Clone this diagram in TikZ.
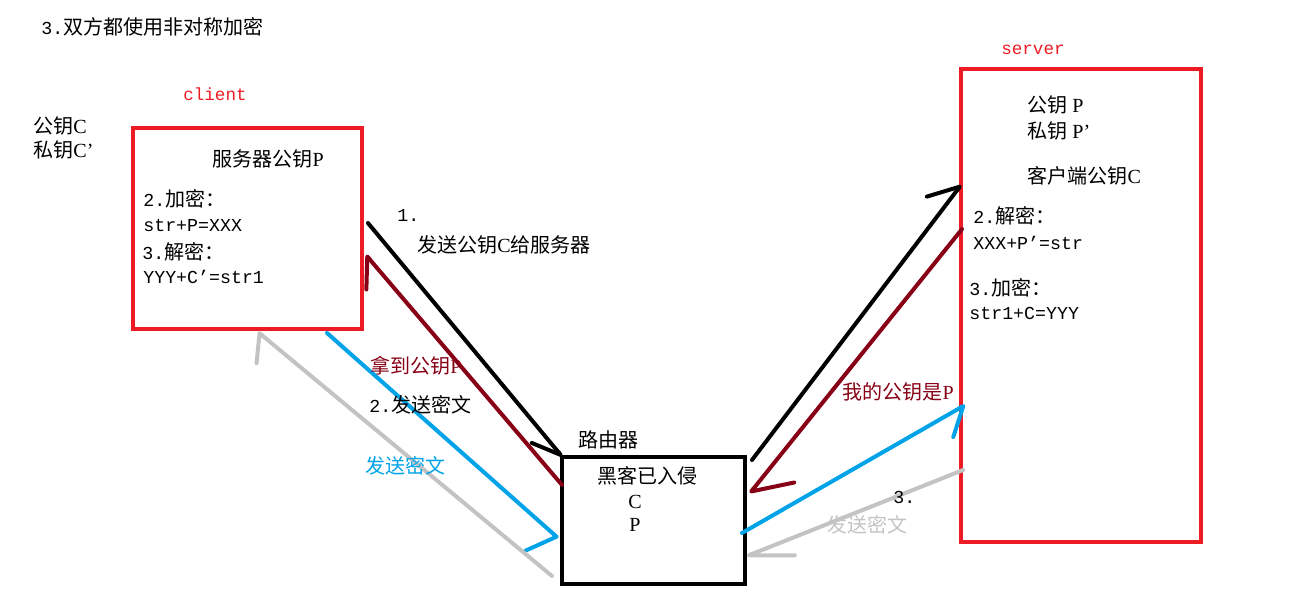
\documentclass[tikz,border=0pt]{standalone}
\usepackage{fontspec}
\setmainfont{Liberation Serif}
\newfontfamily\cjk{Noto Sans CJK SC}
\newfontfamily\monofnt{Liberation Mono}
\usetikzlibrary{arrows.meta, calc}
\definecolor{pred}{HTML}{ED1C24}
\definecolor{pmaroon}{HTML}{880015}
\definecolor{pblue}{HTML}{00A2E8}
\definecolor{pgray}{HTML}{C3C3C3}
\newcommand{\zh}[1]{{\cjk #1}}
\newcommand{\num}[1]{{\monofnt\fontsize{10.4}{12}\selectfont #1}}

\begin{document}
\begin{tikzpicture}[x=0.02cm, y=-0.02cm,
    txt/.style={anchor=west, inner sep=0pt, font=\fontsize{11.4}{13}\selectfont},
    frm/.style={anchor=west, inner sep=0pt, font=\monofnt\fontsize{10.4}{12}\selectfont},
    tag/.style={anchor=west, inner sep=0pt, text=pred, font=\monofnt\fontsize{10}{12}\selectfont},
    box/.style={rectangle, draw, line width=0.08cm, inner sep=0pt, outer sep=0pt},
    wire/.style={line width=0.08cm, line cap=round},
    tipL/.style 2 args={-{Straight Barb[harpoon, round, length=#1cm, width=#2cm]}},
    tipR/.style 2 args={-{Straight Barb[harpoon, swap, round, length=#1cm, width=#2cm]}}]
  \useasboundingbox (0,0) rectangle (1312,604);

  \node[txt] (title) at (41,27) {\num{3.}\zh{双方都使用非对称加密}};

  % client side
  \node[box, draw=pred, minimum width=4.6cm, minimum height=4.03cm] (client) at (247.5,228.75) {};
  \node[tag] (clientlbl) at (183,94) {client};
  \node[txt] (cpub) at (33,126) {\zh{公钥}C};
  \node[txt] (cpriv) at (33,150) {\zh{私钥}C’};
  \node[txt] (skey) at (212,159) {\zh{服务器公钥}P};
  \node[txt] (cenc) at (143,199) {\num{2.}\zh{加密：}};
  \node[frm] (cencf) at (143,225.5) {str+P=XXX};
  \node[txt] (cdec) at (142,252) {\num{3.}\zh{解密：}};
  \node[frm] (cdecf) at (143,277) {YYY+C’=str1};

  % server side
  \node[box, draw=pred, minimum width=4.8cm, minimum height=9.47cm] (server) at (1081,305.25) {};
  \node[tag] (serverlbl) at (1001,50) {server};
  \node[txt] (spub) at (1027,105) {\zh{公钥} P};
  \node[txt] (spriv) at (1027,131) {\zh{私钥} P’};
  \node[txt] (ckey) at (1027,176) {\zh{客户端公钥}C};
  \node[txt] (sdec) at (973,216) {\num{2.}\zh{解密：}};
  \node[frm] (sdecf) at (973,243) {XXX+P’=str};
  \node[txt] (senc) at (969,288) {\num{3.}\zh{加密：}};
  \node[frm] (sencf) at (969,313) {str1+C=YYY};

  % router
  \node[box, draw=black, minimum width=3.66cm, minimum height=2.55cm] (router) at (653.5,520.25) {};
  \node[txt] (rlbl) at (578,440) {\zh{路由器}};
  \node[txt] (hack) at (597,476) {\zh{黑客已入侵}};
  \node[txt, anchor=center] (rc) at (635,502) {C};
  \node[txt, anchor=center] (rp) at (635,525) {P};

  % connectors
  \draw[wire, black, tipR={0.556}{0.584}] ($(client.north east)+(5.5,95)$) -- (router.north west);
  \draw[wire, pmaroon, tipL={0.49}{0.884}] ($(router.north west)+(0,28.5)$) -- ($(client.north east)+(3.5,127)$);
  \draw[wire, pblue, tipR={0.278}{1.24}] ($(client.south east)+(-35.5,3.5)$) -- ($(router.north west)+(-4,81.5)$);
  \draw[wire, pgray, tipL={0.336}{1.0}] ($(router.north west)+(-10,119.5)$) -- ($(client.south west)+(125.5,2.5)$);
  \draw[wire, black, tipL={0.558}{0.808}] ($(router.north east)+(7,3.5)$) -- ($(server.north west)+(0,116.5)$);
  \draw[wire, pmaroon, tipL={0.678}{1.116}] ($(server.north west)+(1,160.5)$) -- ($(router.north east)+(5,36.5)$);
  \draw[wire, pblue, tipR={0.482}{0.876}] ($(router.north east)+(-3,76.5)$) -- ($(server.north west)+(4,336.5)$);
  \draw[wire, pgray, tipL={0.854}{0.68}] ($(server.north west)+(2,401.5)$) -- ($(router.north east)+(2,99.5)$);

  % connector labels
  \node[txt] (l1) at (397,215) {\num{1.}};
  \node[txt] (l1t) at (417,245) {\zh{发送公钥}C\zh{给服务器}};
  \node[txt, text=pmaroon] (lgetp) at (370,366) {\zh{拿到公钥}P};
  \node[txt] (l2) at (369,405) {\num{2.}\zh{发送密文}};
  \node[txt, text=pblue] (l2b) at (365,466) {\zh{发送密文}};
  \node[txt, text=pmaroon] (lmyp) at (842,392) {\zh{我的公钥是}P};
  \node[txt] (l3) at (893,497) {\num{3.}};
  \node[txt, text=pgray] (l3t) at (827,525) {\zh{发送密文}};
\end{tikzpicture}
\end{document}
